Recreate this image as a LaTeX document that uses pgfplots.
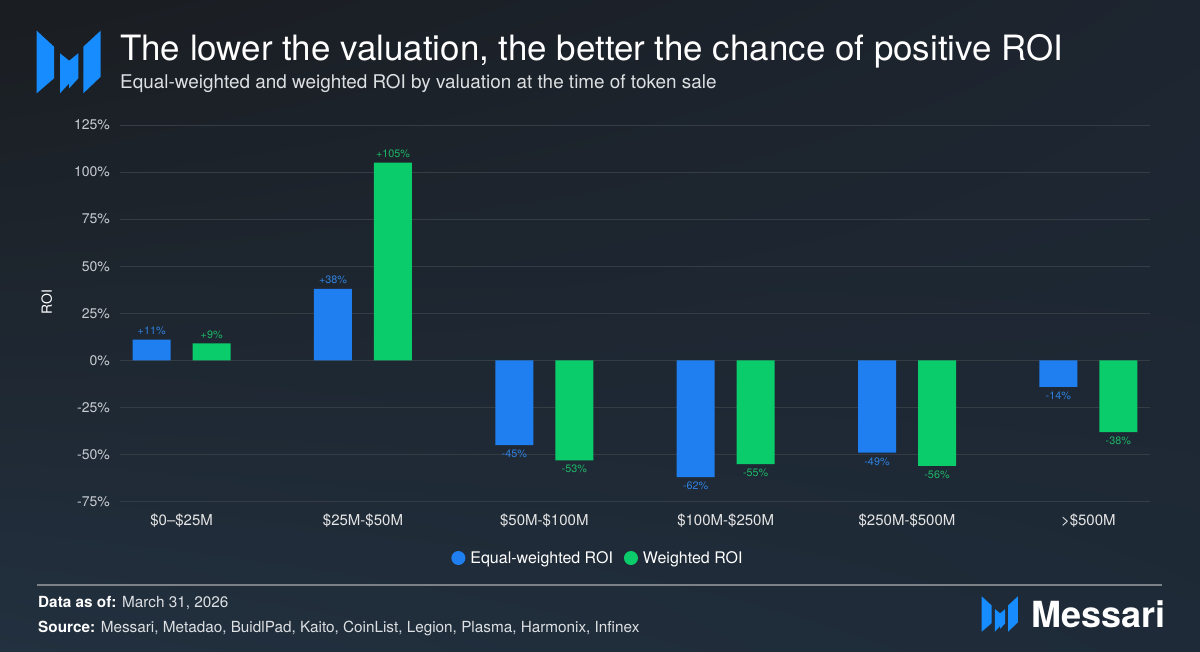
\documentclass[border=0pt]{standalone}
\usepackage{pgfplots}
\pgfplotsset{compat=1.18}
\usetikzlibrary{shadings}
\usepackage{fontspec}
\setmainfont{TeX Gyre Heros}
\definecolor{bgUL}{HTML}{1A1D21}
\definecolor{bgUR}{HTML}{1D2530}
\definecolor{bgLL}{HTML}{22303F}
\definecolor{bgLR}{HTML}{1E2A37}
\definecolor{barblue}{HTML}{1F7FF0}
\definecolor{bargreen}{HTML}{0ACC6A}
\definecolor{lblblue}{HTML}{2F80DE}
\definecolor{lblgreen}{HTML}{1DB566}
\definecolor{logoblue}{HTML}{168CFF}
\definecolor{gridc}{HTML}{363C44}
\definecolor{ticktext}{HTML}{C9CDD2}
\definecolor{subtext}{HTML}{DDE0E3}
\definecolor{sepc}{HTML}{7C8187}
\newcommand{\messarilogo}{%
 \fill[logoblue] (36.7,30.7) -- (54,46.7) -- (54,78.3) -- (36.7,93.3) -- cycle;
 \fill[logoblue] (60,53.3) -- (69.2,60.7) -- (69.2,83.3) -- (60,93.3) -- cycle;
 \fill[logoblue] (69.2,60.7) -- (78.3,53.3) -- (78.3,78.3) -- (69.2,88.3) -- cycle;
 \fill[logoblue] (83.3,46.7) -- (100.7,30.7) -- (100.7,76.7) -- (83.3,93.3) -- cycle;
}
\begin{document}
\begin{tikzpicture}
\useasboundingbox (0pt,0pt) rectangle (1200pt,651pt);
\shade[upper left=bgUL, upper right=bgUR, lower left=bgLL, lower right=bgLR] (0pt,0pt) rectangle (1200pt,651pt);
\begin{scope}[x=1pt,y=-1pt,shift={(0pt,651pt)}]
\messarilogo
\end{scope}
\begin{scope}[x=0.565pt,y=-0.565pt,shift={(961pt,72pt)}]
\messarilogo
\end{scope}
\node[anchor=base west, inner sep=0pt, text=white, font=\fontsize{34.9}{40}\selectfont] at (120pt,590pt) {The lower the valuation, the better the chance of positive ROI};
\node[anchor=base west, inner sep=0pt, text=subtext, font=\fontsize{18.9}{22}\selectfont] at (120pt,562.7pt) {Equal-weighted and weighted ROI by valuation at the time of token sale};
\draw[color=sepc, line width=1.5pt] (37pt,66pt) -- (1162pt,66pt);
\node[anchor=base west, inner sep=0pt, text=subtext, font=\fontsize{15.3}{18}\selectfont] at (38pt,43.3pt) {\textcolor{white}{\textbf{Data as of:}} March 31, 2026};
\node[anchor=base west, inner sep=0pt, text=subtext, font=\fontsize{15.3}{18}\selectfont] at (38pt,19pt) {\textcolor{white}{\textbf{Source:}} Messari, Metadao, BuidlPad, Kaito, CoinList, Legion, Plasma, Harmonix, Infinex};
\node[anchor=base west, inner sep=0pt, text=white, font=\fontsize{36}{40}\selectfont\bfseries] at (1031.7pt,23.3pt) {Messari};
\begin{axis}[
  at={(120pt,149.3pt)}, anchor=south west,
  scale only axis, width=1030pt, height=376.7pt,
  xmin=-0.34, xmax=5.34, ymin=-75, ymax=125,
  ybar=22pt, bar width=38pt,
  xtick={0,1,2,3,4,5},
  xticklabels={\$0–\$25M, \$25M-\$50M, \$50M-\$100M, \$100M-\$250M, \$250M-\$500M, >\$500M},
  ytick={-75,-50,-25,0,25,50,75,100,125},
  yticklabels={-75\%,-50\%,-25\%,0\%,25\%,50\%,75\%,100\%,125\%},
  ymajorgrids, grid style={gridc, line width=0.9pt},
  axis line style={draw=none}, major tick length=0pt,
  xticklabel style={inner sep=0pt, yshift=-12pt, text=white!90!black, font=\fontsize{15}{18}\selectfont},
  yticklabel style={inner sep=0pt, xshift=-10pt, text=ticktext, font=\fontsize{14}{16}\selectfont},
  ylabel={ROI},
  ylabel style={at={(axis description cs:-0.0712,0.529)}, anchor=center, text=white, font=\fontsize{14}{16}\selectfont},
  point meta=rawy,
  nodes near coords={\pgfmathprintnumber[showpos,fixed,precision=0,assume math mode=true]{\pgfplotspointmeta}\%},
  nodes near coords align={vertical},
  every node near coord/.append style={font=\fontsize{10.8}{12}\selectfont, inner sep=4.5pt},
  legend style={at={(axis description cs:0.464,-0.1495)}, anchor=center, draw=none, fill=none, text=white, font=\fontsize{16}{19}\selectfont, legend columns=2, /tikz/every odd column/.append style={column sep=3pt}, /tikz/every even column/.append style={column sep=9pt}},
  legend image code/.code={\fill[#1] (0pt,0pt) circle (7pt);},
]
\addplot[fill=barblue, draw=none, every node near coord/.append style={text=lblblue}] coordinates {
 (0,11) (1,38) (2,-45) (3,-62) (4,-49) (5,-14)
};
\addlegendentry{Equal-weighted ROI}
\addplot[fill=bargreen, draw=none, every node near coord/.append style={text=lblgreen}] coordinates {
 (0,9) (1,105) (2,-53) (3,-55) (4,-56) (5,-38)
};
\addlegendentry{Weighted ROI}
\end{axis}
\end{tikzpicture}
\end{document}
